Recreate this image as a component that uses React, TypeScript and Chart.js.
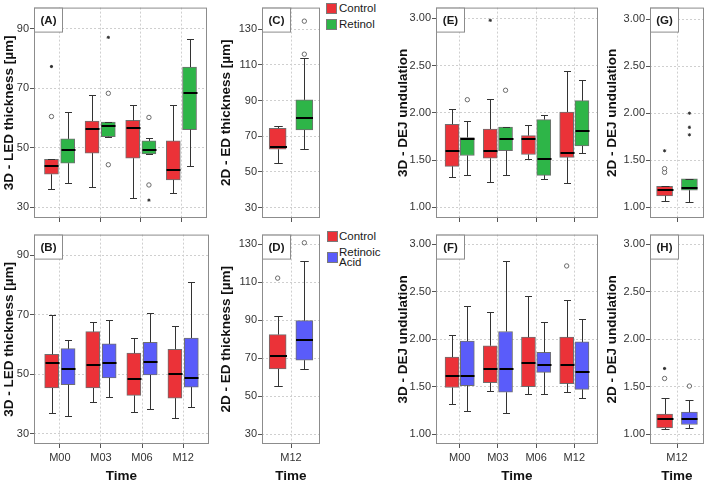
import React, { useEffect, useRef } from 'react';
import { Chart, registerables } from 'chart.js';

Chart.register(...registerables);

const FONT = '"Liberation Sans", Arial, Helvetica, sans-serif';
Chart.defaults.font.family = FONT;

const RED = '#EB3238';
const GREEN = '#2EB548';
const BLUE = '#5A5CFA';

// ---------- data ----------
const timeLabels = ['M00', 'M03', 'M06', 'M12'];
const m12Labels = ['M12'];
const thicknessTicks = [30, 50, 70, 90];
const edTicks = [30, 50, 70, 90, 110, 130];
const dejTicks = [1.0, 1.5, 2.0, 2.5, 3.0];

// each box: [lower whisker, Q1, median, Q3, upper whisker]
const ledRetinolControl = [
  [36.1, 41.1, 43.9, 46.1, 46.3],
  [36.7, 48.2, 56.3, 59.0, 67.8],
  [33.0, 46.5, 56.7, 59.2, 64.3],
  [34.8, 39.2, 42.6, 52.3, 64.3],
];
const ledRetinolTreated = [
  [38.0, 44.8, 49.2, 53.0, 62.0],
  [53.5, 53.7, 57.2, 58.6, 58.8],
  [47.9, 47.9, 49.3, 52.3, 53.4],
  [43.9, 56.1, 68.3, 77.1, 86.6],
];
// outliers: [category index, value]
const ledRetinolControlCircles = [[0, 60.5]];
const ledRetinolControlStars = [[0, 77.3]];
const ledRetinolTreatedCircles = [[1, 68.3], [1, 44.3], [2, 60.2], [2, 37.5]];
const ledRetinolTreatedStars = [[1, 87.1], [2, 32.4]];

const ledAcidControl = [
  [37.0, 45.4, 53.9, 56.7, 69.9],
  [40.7, 45.4, 53.0, 64.3, 67.4],
  [37.2, 42.9, 48.4, 57.1, 62.3],
  [35.3, 42.0, 50.2, 58.4, 66.2],
];
const ledAcidTreated = [
  [36.0, 46.5, 51.7, 58.6, 61.5],
  [42.3, 48.8, 53.8, 60.2, 68.3],
  [38.3, 49.8, 54.1, 60.7, 70.7],
  [39.0, 45.7, 48.6, 62.2, 81.1],
];

const edRetinolControl = [[54.9, 62.7, 64.2, 74.5, 75.8]];
const edRetinolTreated = [[62.7, 73.5, 80.0, 90.4, 114.0]];
const edRetinolTreatedCircles = [[0, 116.0], [0, 134.5]];

const edAcidControl = [[55.4, 64.4, 71.2, 82.5, 92.0]];
const edAcidTreated = [[64.4, 69.0, 79.5, 89.8, 121.2]];
const edAcidControlCircles = [[0, 112.2]];
const edAcidTreatedCircles = [[0, 130.8]];

const dej3RetinolControl = [
  [1.32, 1.435, 1.595, 1.88, 2.04],
  [1.27, 1.52, 1.595, 1.83, 2.15],
  [1.51, 1.56, 1.72, 1.76, 1.87],
  [1.26, 1.53, 1.58, 2.01, 2.44],
];
const dej3RetinolTreated = [
  [1.34, 1.55, 1.72, 1.74, 1.91],
  [1.34, 1.6, 1.72, 1.85, 1.85],
  [1.3, 1.34, 1.51, 1.93, 1.98],
  [1.58, 1.65, 1.81, 2.13, 2.35],
];
const dej3RetinolControlStars = [[1, 2.98]];
const dej3RetinolTreatedCircles = [[0, 2.14], [1, 2.24]];

const dej3AcidControl = [
  [1.32, 1.49, 1.61, 1.81, 2.04],
  [1.45, 1.54, 1.69, 1.93, 2.28],
  [1.42, 1.5, 1.75, 2.02, 2.45],
  [1.44, 1.53, 1.73, 2.02, 2.41],
];
const dej3AcidTreated = [
  [1.24, 1.51, 1.61, 1.98, 2.35],
  [1.22, 1.44, 1.69, 2.08, 2.82],
  [1.42, 1.65, 1.73, 1.86, 2.18],
  [1.38, 1.47, 1.65, 1.97, 2.21],
];
const dej3AcidControlCircles = [[3, 2.77]];

const dej2RetinolControl = [[1.06, 1.12, 1.185, 1.22, 1.22]];
const dej2RetinolTreated = [[1.05, 1.18, 1.2, 1.3, 1.3]];
const dej2RetinolControlCircles = [[0, 1.37], [0, 1.41]];
const dej2RetinolControlStars = [[0, 1.6]];
const dej2RetinolTreatedStars = [[0, 1.77], [0, 1.85], [0, 2.0]];

const dej2AcidControl = [[1.055, 1.065, 1.16, 1.21, 1.38]];
const dej2AcidTreated = [[1.065, 1.1, 1.16, 1.23, 1.36]];
const dej2AcidControlCircles = [[0, 1.585]];
const dej2AcidControlStars = [[0, 1.69]];
const dej2AcidTreatedCircles = [[0, 1.505]];

// ---------- plugin: whiskers, medians, frame, panel letter ----------
const boxExtras = {
  id: 'boxExtras',
  afterDatasetsDraw(chart: any) {
    const ctx = chart.ctx;
    const xs = chart.scales.x;
    const ys = chart.scales.y;
    chart.data.datasets.forEach((ds: any) => {
      if (!ds.stats) return;
      const w = ds.barThickness;
      ds.stats.forEach((s: number[], i: number) => {
        const x = Math.round(xs.getPixelForValue(i + ds.xOffset)) + 0.5;
        const yLo = ys.getPixelForValue(s[0]);
        const yQ1 = ys.getPixelForValue(s[1]);
        const yMed = ys.getPixelForValue(s[2]);
        const yQ3 = ys.getPixelForValue(s[3]);
        const yHi = ys.getPixelForValue(s[4]);
        ctx.save();
        ctx.strokeStyle = '#333';
        ctx.lineWidth = 1;
        ctx.beginPath();
        if (yHi < yQ3 - 0.5) {
          ctx.moveTo(x, yQ3);
          ctx.lineTo(x, Math.round(yHi) + 0.5);
        }
        if (yLo > yQ1 + 0.5) {
          ctx.moveTo(x, yQ1);
          ctx.lineTo(x, Math.round(yLo) + 0.5);
        }
        ctx.moveTo(x - w / 4, Math.round(yHi) + 0.5);
        ctx.lineTo(x + w / 4, Math.round(yHi) + 0.5);
        ctx.moveTo(x - w / 4, Math.round(yLo) + 0.5);
        ctx.lineTo(x + w / 4, Math.round(yLo) + 0.5);
        ctx.stroke();
        ctx.strokeStyle = '#000';
        ctx.lineWidth = 2;
        ctx.beginPath();
        ctx.moveTo(x - w / 2, Math.round(yMed));
        ctx.lineTo(x + w / 2, Math.round(yMed));
        ctx.stroke();
        ctx.restore();
      });
    });
  },
  afterDraw(chart: any) {
    const ctx = chart.ctx;
    const a = chart.chartArea;
    ctx.save();
    ctx.strokeStyle = '#8c8c8c';
    ctx.lineWidth = 1;
    ctx.strokeRect(a.left + 0.5, a.top + 0.5, a.right - a.left - 1, a.bottom - a.top - 1);
    const letter = chart.options.plugins.boxExtras?.letter;
    if (letter) {
      ctx.fillStyle = '#fff';
      ctx.fillRect(a.left + 0.5, a.top + 0.5, 28, 24);
      ctx.strokeRect(a.left + 0.5, a.top + 0.5, 28, 24);
      ctx.fillStyle = '#1a1a1a';
      ctx.font = 'bold 11.5px ' + FONT;
      ctx.textAlign = 'center';
      ctx.textBaseline = 'middle';
      ctx.fillText(letter, a.left + 14.5, a.top + 13);
    }
    ctx.restore();
  },
};

// ---------- panels ----------
type Series = {
  stats: number[][];
  color: string;
  off: number;
  circles?: number[][];
  stars?: number[][];
};

type PanelCfg = {
  letter: string;
  left: number;
  top: number;
  w: number;
  h: number;
  yAxisW: number;
  xAxisH: number;
  padTop: number;
  padRight: number;
  yMin: number;
  yMax: number;
  yTicks: number[];
  decimals: number;
  xMin: number;
  xMax: number;
  labels: string[];
  showX: boolean;
  yTitle: string;
  titlePad: number;
  boxW: number;
  series: Series[];
};

const TOP_ROW = { top: 0, h: 226, xAxisH: 8, padTop: 1, showX: false };
const BOTTOM_ROW = { top: 227, h: 254, xAxisH: 37, padTop: 1, showX: true };

const COL_A = { left: 0, w: 212, yAxisW: 34, padRight: 3, titlePad: 2.25, xMin: -0.63, xMax: 3.63, boxW: 14, labels: timeLabels };
const COL_C = { left: 213, w: 112, yAxisW: 49, padRight: 2, titlePad: 6.25, xMin: -0.5, xMax: 0.5, boxW: 17, labels: m12Labels };
const COL_E = { left: 390, w: 213, yAxisW: 46, padRight: 2, titlePad: 6.25, xMin: -0.62, xMax: 3.62, boxW: 14, labels: timeLabels };
const COL_G = { left: 604, w: 105, yAxisW: 46, padRight: 2, titlePad: 1.75, xMin: -0.5, xMax: 0.5, boxW: 16, labels: m12Labels };

const OFF4 = 0.2;
const OFF1 = 0.23;

const panels: PanelCfg[] = [
  {
    ...TOP_ROW, ...COL_A, letter: '(A)', yMin: 26.4, yMax: 97.1, yTicks: thicknessTicks, decimals: 0,
    yTitle: '3D - LED thickness [µm]',
    series: [
      { stats: ledRetinolControl, color: RED, off: -OFF4, circles: ledRetinolControlCircles, stars: ledRetinolControlStars },
      { stats: ledRetinolTreated, color: GREEN, off: OFF4, circles: ledRetinolTreatedCircles, stars: ledRetinolTreatedStars },
    ],
  },
  {
    ...BOTTOM_ROW, ...COL_A, letter: '(B)', yMin: 26.6, yMax: 96.9, yTicks: thicknessTicks, decimals: 0,
    yTitle: '3D - LED thickness [µm]',
    series: [
      { stats: ledAcidControl, color: RED, off: -OFF4 },
      { stats: ledAcidTreated, color: BLUE, off: OFF4 },
    ],
  },
  {
    ...TOP_ROW, ...COL_C, letter: '(C)', yMin: 24.2, yMax: 142.1, yTicks: edTicks, decimals: 0,
    yTitle: '2D - ED thickness [µm]',
    series: [
      { stats: edRetinolControl, color: RED, off: -OFF1 },
      { stats: edRetinolTreated, color: GREEN, off: OFF1, circles: edRetinolTreatedCircles },
    ],
  },
  {
    ...BOTTOM_ROW, ...COL_C, letter: '(D)', yMin: 24.9, yMax: 135.1, yTicks: edTicks, decimals: 0,
    yTitle: '2D - ED thickness [µm]',
    series: [
      { stats: edAcidControl, color: RED, off: -OFF1, circles: edAcidControlCircles },
      { stats: edAcidTreated, color: BLUE, off: OFF1, circles: edAcidTreatedCircles },
    ],
  },
  {
    ...TOP_ROW, ...COL_E, letter: '(E)', yMin: 0.888, yMax: 3.115, yTicks: dejTicks, decimals: 2,
    yTitle: '3D - DEJ undulation',
    series: [
      { stats: dej3RetinolControl, color: RED, off: -OFF4, stars: dej3RetinolControlStars },
      { stats: dej3RetinolTreated, color: GREEN, off: OFF4, circles: dej3RetinolTreatedCircles },
    ],
  },
  {
    ...BOTTOM_ROW, ...COL_E, letter: '(F)', yMin: 0.895, yMax: 3.1, yTicks: dejTicks, decimals: 2,
    yTitle: '3D - DEJ undulation',
    series: [
      { stats: dej3AcidControl, color: RED, off: -OFF4, circles: dej3AcidControlCircles },
      { stats: dej3AcidTreated, color: BLUE, off: OFF4 },
    ],
  },
  {
    ...TOP_ROW, ...COL_G, letter: '(G)', yMin: 0.884, yMax: 3.125, yTicks: dejTicks, decimals: 2,
    yTitle: '2D - DEJ undulation',
    series: [
      { stats: dej2RetinolControl, color: RED, off: -OFF1, circles: dej2RetinolControlCircles, stars: dej2RetinolControlStars },
      { stats: dej2RetinolTreated, color: GREEN, off: OFF1, stars: dej2RetinolTreatedStars },
    ],
  },
  {
    ...BOTTOM_ROW, ...COL_G, letter: '(H)', yMin: 0.895, yMax: 3.1, yTicks: dejTicks, decimals: 2,
    yTitle: '2D - DEJ undulation',
    series: [
      { stats: dej2AcidControl, color: RED, off: -OFF1, circles: dej2AcidControlCircles, stars: dej2AcidControlStars },
      { stats: dej2AcidTreated, color: BLUE, off: OFF1, circles: dej2AcidTreatedCircles },
    ],
  },
];

function buildConfig(cfg: PanelCfg): any {
  const datasets: any[] = [];
  cfg.series.forEach((s) => {
    datasets.push({
      type: 'bar',
      data: s.stats.map((st, i) => ({ x: i + s.off, y: [st[1], st[3]] })),
      backgroundColor: s.color,
      borderColor: '#707070',
      borderWidth: 1,
      borderSkipped: false,
      grouped: false,
      barThickness: cfg.boxW,
      stats: s.stats,
      xOffset: s.off,
    });
    if (s.circles && s.circles.length) {
      datasets.push({
        type: 'scatter',
        data: s.circles.map((p) => ({ x: p[0] + s.off, y: p[1] })),
        pointStyle: 'circle',
        pointRadius: 2.2,
        pointBackgroundColor: '#ffffff',
        pointBorderColor: '#6a6a6a',
        pointBorderWidth: 1,
      });
    }
    if (s.stars && s.stars.length) {
      datasets.push({
        type: 'scatter',
        data: s.stars.map((p) => ({ x: p[0] + s.off, y: p[1] })),
        pointStyle: 'star',
        pointRadius: 1.6,
        pointBorderColor: '#333333',
        pointBorderWidth: 1,
      });
    }
  });

  const labels = cfg.labels;
  return {
    type: 'bar',
    data: { datasets },
    plugins: [boxExtras],
    options: {
      animation: false,
      responsive: false,
      devicePixelRatio: 1,
      events: [],
      layout: { padding: { top: cfg.padTop, right: cfg.padRight, left: 0, bottom: 0 } },
      plugins: {
        legend: { display: false },
        tooltip: { enabled: false },
        title: { display: false },
        boxExtras: { letter: cfg.letter },
      },
      scales: {
        x: {
          type: 'linear',
          min: cfg.xMin,
          max: cfg.xMax,
          offset: false,
          afterBuildTicks: (s: any) => {
            s.ticks = labels.map((_, i) => ({ value: i }));
          },
          afterFit: (s: any) => {
            s.height = cfg.xAxisH;
          },
          ticks: {
            autoSkip: false,
            maxRotation: 0,
            padding: 3,
            color: '#333',
            font: { size: 11, family: FONT },
            callback: (v: number) => (cfg.showX ? labels[Math.round(v)] : ''),
          },
          grid: {
            offset: false,
            color: '#cfcfcf',
            lineWidth: 1,
            tickLength: 4,
            tickColor: '#555',
            tickBorderDash: [],
          },
          border: { display: false, dash: [2, 2] },
          title: {
            display: cfg.showX,
            text: 'Time',
            color: '#111',
            font: { size: 13.5, weight: 'bold', family: FONT, lineHeight: 1 },
            padding: { top: 0, bottom: -2 },
          },
        },
        y: {
          type: 'linear',
          min: cfg.yMin,
          max: cfg.yMax,
          beginAtZero: false,
          afterBuildTicks: (s: any) => {
            s.ticks = cfg.yTicks.map((v) => ({ value: v }));
          },
          afterFit: (s: any) => {
            s.width = cfg.yAxisW;
          },
          ticks: {
            autoSkip: false,
            padding: 1,
            color: '#333',
            font: { size: 11, family: FONT },
            callback: (v: number) => Number(v).toFixed(cfg.decimals),
          },
          grid: {
            color: '#cfcfcf',
            lineWidth: 1,
            tickLength: 4,
            tickColor: '#555',
            tickBorderDash: [],
          },
          border: { display: false, dash: [2, 2] },
          title: {
            display: true,
            text: cfg.yTitle,
            color: '#111',
            font: { size: 13.5, weight: 'bold', family: FONT, lineHeight: 1 },
            padding: { top: cfg.titlePad, bottom: 0 },
          },
        },
      },
    },
  };
}

function Panel({ cfg }: { cfg: PanelCfg }) {
  const ref = useRef<HTMLCanvasElement | null>(null);
  useEffect(() => {
    if (!ref.current) return;
    const chart = new Chart(ref.current, buildConfig(cfg));
    return () => chart.destroy();
  }, [cfg]);
  return (
    <canvas
      ref={ref}
      width={cfg.w}
      height={cfg.h}
      style={{ position: 'absolute', left: cfg.left, top: cfg.top, width: cfg.w, height: cfg.h }}
    />
  );
}

const legendText: React.CSSProperties = {
  position: 'absolute',
  fontFamily: FONT,
  fontSize: 11.5,
  color: '#1a1a1a',
  lineHeight: '12px',
  whiteSpace: 'nowrap',
};

function Swatch({ left, top, color }: { left: number; top: number; color: string }) {
  return (
    <div
      style={{
        position: 'absolute',
        left,
        top,
        width: 11,
        height: 11,
        boxSizing: 'border-box',
        background: color,
        border: '1px solid #7a7a7a',
      }}
    />
  );
}

export default function App() {
  return (
    <div
      style={{
        position: 'absolute',
        left: 0,
        top: 0,
        width: 709,
        height: 481,
        overflow: 'hidden',
        background: '#fff',
      }}
    >
      {panels.map((p) => (
        <Panel key={p.letter} cfg={p} />
      ))}
      <Swatch left={326} top={3} color={RED} />
      <div style={{ ...legendText, left: 339, top: 2 }}>Control</div>
      <Swatch left={326} top={19} color={GREEN} />
      <div style={{ ...legendText, left: 339, top: 18 }}>Retinol</div>

      <Swatch left={327} top={231} color={RED} />
      <div style={{ ...legendText, left: 339, top: 230 }}>Control</div>
      <Swatch left={327} top={252} color={BLUE} />
      <div style={{ ...legendText, left: 339, top: 247, lineHeight: '10px' }}>
        Retinoic
        <br />
        Acid
      </div>
    </div>
  );
}
